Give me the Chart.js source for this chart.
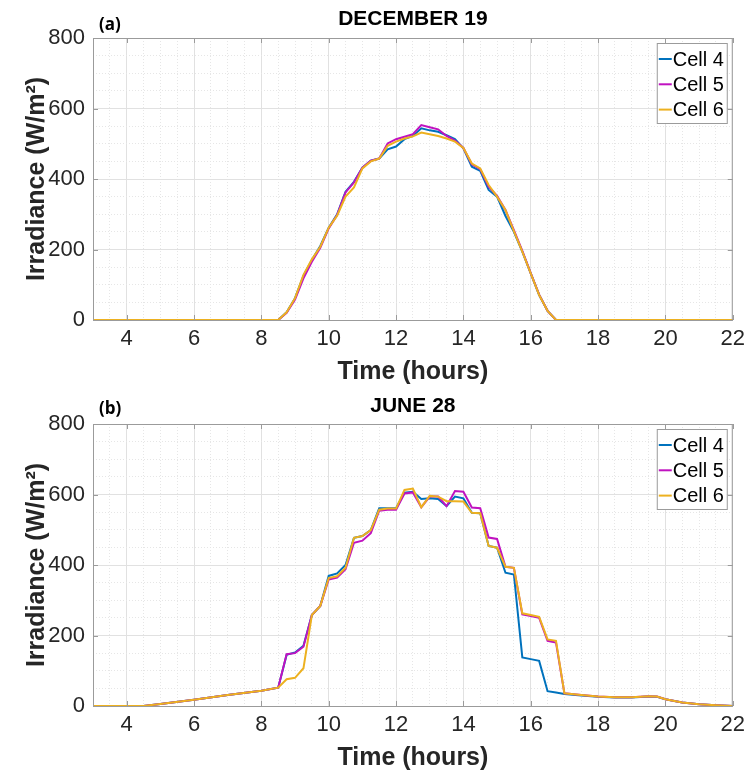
<!DOCTYPE html>
<html>
<head>
<meta charset="utf-8">
<title>Irradiance</title>
<script src="https://cdn.jsdelivr.net/npm/chart.js@4.4.1/dist/chart.umd.min.js"></script>
<style>
  html, body { margin: 0; padding: 0; background: #fff; }
  canvas { display: block; }
</style>
</head>
<body>
<canvas id="chartDec" width="751" height="388"></canvas>
<canvas id="chartJun" width="751" height="388"></canvas>
<script>
// (a) December 19 - time of day in hours
const decHours = [3, 8.5, 8.75, 9, 9.25, 9.5, 9.75, 10, 10.25, 10.5, 10.75, 11, 11.25, 11.5, 11.75,
  12, 12.25, 12.5, 12.75, 13, 13.25, 13.5, 13.75, 14, 14.25, 14.5, 14.75, 15, 15.25, 15.5, 15.75,
  16, 16.25, 16.5, 16.75, 22];
const decCell4 = [0, 0, 22, 62, 125, 170, 210, 262, 300, 364, 392, 432, 452, 458, 484,
  492, 513, 522, 544, 538, 534, 524, 513, 487, 435, 423, 369, 350, 295, 250, 194,
  132, 71, 26, 0, 0];
const decCell5 = [0, 0, 20, 58, 118, 165, 205, 260, 298, 362, 390, 432, 452, 458, 501,
  513, 520, 527, 553, 547, 541, 522, 509, 488, 442, 428, 378, 352, 312, 255, 196,
  133, 72, 26, 0, 0];
const decCell6 = [0, 0, 22, 62, 128, 172, 208, 262, 296, 350, 376, 430, 450, 458, 494,
  506, 515, 521, 532, 527, 522, 515, 506, 488, 444, 430, 383, 350, 312, 252, 194,
  132, 71, 26, 0, 0];

// (b) June 28
const junHours = [3, 4.5, 5, 6, 7, 8,
  8.5, 8.75, 9, 9.25, 9.5, 9.75, 10, 10.25, 10.5, 10.75, 11, 11.25, 11.5, 11.75,
  12, 12.25, 12.5, 12.75, 13, 13.25, 13.5, 13.75, 14, 14.25, 14.5, 14.75, 15, 15.25, 15.5, 15.75,
  16, 16.25, 16.5, 16.75, 17,
  17.5, 18, 18.5, 19, 19.5, 19.75, 20, 20.5, 21, 21.5, 22];
const junCell4 = [0, 0, 6, 18, 31, 43,
  52, 145, 152, 171, 258, 284, 369, 376, 400, 477, 482, 499, 561, 561,
  561, 605, 608, 587, 589, 587, 567, 594, 589, 548, 547, 454, 449, 378, 373, 138,
  133, 128, 42, 38, 34,
  30, 26, 24, 24, 27, 26, 19, 10, 5, 2, 0];
const junCell5 = [0, 0, 6, 18, 31, 43,
  52, 147, 150, 168, 258, 284, 359, 364, 388, 463, 469, 490, 554, 557,
  557, 603, 606, 564, 594, 594, 567, 610, 608, 563, 561, 478, 474, 395, 392, 260,
  255, 250, 185, 180, 36,
  31, 27, 25, 25, 28, 27, 19, 10, 5, 2, 0];
const junCell6 = [0, 0, 6, 18, 31, 43,
  52, 76, 80, 107, 258, 284, 363, 368, 392, 477, 482, 499, 557, 560,
  560, 613, 617, 564, 596, 594, 581, 581, 580, 548, 547, 454, 449, 395, 392, 263,
  258, 253, 189, 185, 36,
  31, 27, 25, 25, 28, 27, 19, 10, 5, 2, 0];

const seriesNames = ["Cell 4", "Cell 5", "Cell 6"];
const seriesColors = ["#0072BD", "#C012C0", "#EDB120"];
const xTickValues = [4, 6, 8, 10, 12, 14, 16, 18, 20, 22];
const yTickValues = [0, 200, 400, 600, 800];

const textColor = "#262626";
const frameColor = "#9b9b9b";

// box around the plot + inward tick marks (matlab style)
const framePlugin = {
  id: "frame",
  afterDatasetsDraw(chart) {
    const { ctx, chartArea: a } = chart;
    const xs = chart.scales.x, ys = chart.scales.y;
    ctx.save();
    ctx.strokeStyle = frameColor;
    ctx.lineWidth = 1;
    ctx.strokeRect(a.left + 0.5, a.top + 0.5, a.right - a.left - 1, a.bottom - a.top);
    ctx.beginPath();
    xTickValues.forEach(v => {
      const px = Math.round(xs.getPixelForValue(v)) + 0.5;
      ctx.moveTo(px, a.bottom); ctx.lineTo(px, a.bottom - 5);
      ctx.moveTo(px, a.top); ctx.lineTo(px, a.top + 5);
    });
    yTickValues.forEach(v => {
      const py = Math.round(ys.getPixelForValue(v)) + 0.5;
      ctx.moveTo(a.left, py); ctx.lineTo(a.left + 5, py);
      ctx.moveTo(a.right, py); ctx.lineTo(a.right - 5, py);
    });
    ctx.stroke();
    ctx.restore();
  }
};

// legend box inside the top right corner
const boxLegendPlugin = {
  id: "boxLegend",
  afterDraw(chart) {
    const { ctx, chartArea: a } = chart;
    const w = 70, h = 80;
    const x0 = a.right - 6 - w, y0 = a.top + 5;
    ctx.save();
    ctx.fillStyle = "#fff";
    ctx.fillRect(x0, y0, w, h);
    ctx.strokeStyle = frameColor;
    ctx.lineWidth = 1;
    ctx.strokeRect(x0 + 0.5, y0 + 0.5, w, h);
    ctx.font = "20px 'Liberation Sans', Arial, sans-serif";
    ctx.textBaseline = "middle";
    ctx.textAlign = "left";
    chart.data.datasets.forEach((ds, i) => {
      const yy = y0 + 16 + i * 25.3;
      ctx.strokeStyle = ds.borderColor;
      ctx.lineWidth = 2;
      ctx.beginPath();
      ctx.moveTo(x0 + 2, yy); ctx.lineTo(x0 + 15, yy);
      ctx.stroke();
      ctx.fillStyle = "#000";
      ctx.fillText(ds.label, x0 + 16, yy + 1);
    });
    ctx.restore();
  }
};

// panel tag "(a)" + bold title over the plot
const panelTitlePlugin = {
  id: "panelTitle",
  afterDraw(chart, args, opts) {
    const { ctx, chartArea: a } = chart;
    ctx.save();
    ctx.fillStyle = "#000";
    ctx.textBaseline = "middle";
    ctx.font = "bold 17px 'Open Sans', 'Liberation Sans', sans-serif";
    ctx.textAlign = "left";
    ctx.fillText(opts.tag, a.left + 6, opts.tagY);
    ctx.font = "bold 21px 'Liberation Sans', Arial, sans-serif";
    ctx.textAlign = "center";
    ctx.fillText(opts.text, (a.left + a.right) / 2, opts.textY);
    ctx.restore();
  }
};

function makeChart(id, hours, c4, c5, c6, cfg) {
  const values = [c4, c5, c6];
  const datasets = values.map((vals, i) => ({
    label: seriesNames[i],
    data: hours.map((h, k) => ({ x: h, y: vals[k] })),
    borderColor: seriesColors[i],
    backgroundColor: seriesColors[i],
    borderWidth: 2,
    pointRadius: 0,
    tension: 0,
    order: 2 - i // cell 6 drawn last, on top
  }));
  const tickFont = { family: "'Liberation Sans', Arial, sans-serif", size: 22 };
  const titleFont = { family: "'Liberation Sans', Arial, sans-serif", size: 25, weight: "bold" };

  return new Chart(document.getElementById(id), {
    type: "line",
    data: { datasets },
    options: {
      responsive: false,
      animation: false,
      devicePixelRatio: 1,
      layout: { padding: { top: cfg.areaTop, right: 15, bottom: 0, left: 0 } },
      plugins: {
        legend: { display: false },
        tooltip: { enabled: false },
        panelTitle: cfg.title
      },
      scales: {
        x: {
          type: "linear", position: "bottom", min: 3, max: 22,
          afterBuildTicks: s => { s.ticks = xTickValues.map(v => ({ value: v })); },
          afterFit: s => { s.height = cfg.xHeight; },
          grid: { color: "#e1e1e1", drawTicks: false },
          border: { display: false },
          ticks: { font: tickFont, color: textColor, padding: 6, callback: v => String(v) },
          title: { display: true, text: "Time (hours)", font: titleFont, color: textColor,
                   padding: { top: 0, bottom: cfg.xTitlePad } }
        },
        xMinor: {
          type: "linear", position: "bottom", min: 3, max: 22,
          afterFit: s => { s.height = 0; },
          ticks: { display: false, stepSize: 0.5 },
          grid: { drawTicks: false,
                  color: c => (c.tick && c.tick.value % 2 === 0) ? "rgba(0,0,0,0)" : "#e6e6e6" },
          border: { display: false, dash: [1, 2] }
        },
        y: {
          type: "linear", position: "left", min: 0, max: 800,
          afterBuildTicks: s => { s.ticks = yTickValues.map(v => ({ value: v })); },
          afterFit: s => { s.width = 93; },
          grid: { color: "#e1e1e1", drawTicks: false },
          border: { display: false },
          ticks: { font: tickFont, color: textColor, padding: 8 },
          title: { display: true, text: "Irradiance (W/m²)", font: titleFont, color: textColor,
                   padding: { top: 22, bottom: 0 } }
        },
        yMinor: {
          type: "linear", position: "left", min: 0, max: 800,
          afterFit: s => { s.width = 0; },
          ticks: { display: false, stepSize: 50 },
          grid: { drawTicks: false,
                  color: c => (c.tick && c.tick.value % 200 === 0) ? "rgba(0,0,0,0)" : "#e6e6e6" },
          border: { display: false, dash: [1, 2] }
        }
      }
    },
    plugins: [framePlugin, boxLegendPlugin, panelTitlePlugin]
  });
}

makeChart("chartDec", decHours, decCell4, decCell5, decCell6, {
  areaTop: 38, xHeight: 68, xTitlePad: 1,
  title: { tag: "(a)", text: "DECEMBER 19", tagY: 25, textY: 19 }
});
makeChart("chartJun", junHours, junCell4, junCell5, junCell6, {
  areaTop: 36, xHeight: 70, xTitlePad: 3,
  title: { tag: "(b)", text: "JUNE 28", tagY: 21, textY: 18 }
});
</script>
</body>
</html>
